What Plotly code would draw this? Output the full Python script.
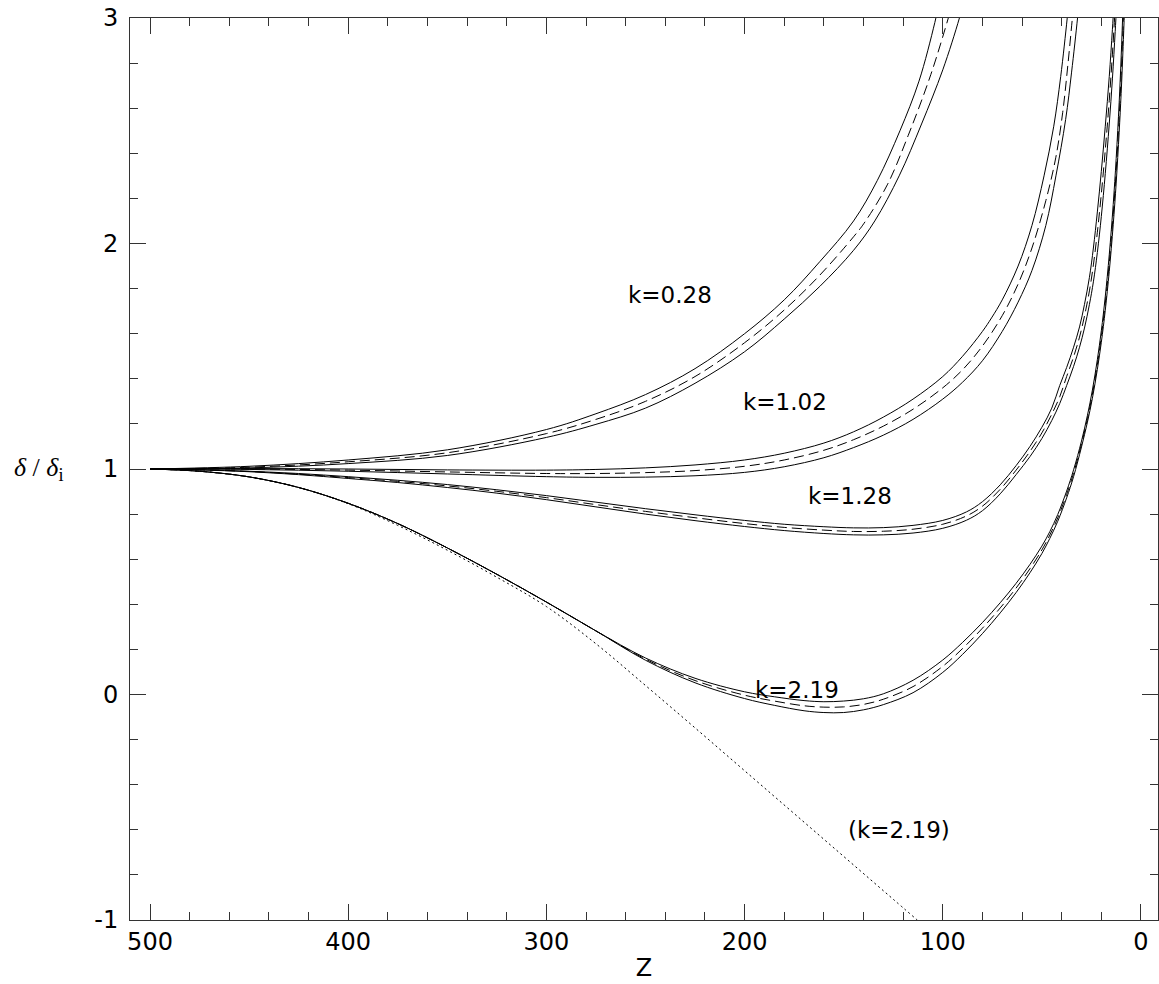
import plotly.graph_objects as go

# ---------------- data ----------------
# k = 0.28 band
k028_up_z = [500, 450, 400, 350, 300, 275, 250, 225, 200, 180, 162, 145, 133, 121.6, 112, 104, 101]
k028_up_y = [1.0, 1.012, 1.04, 1.085, 1.175, 1.245, 1.33, 1.445, 1.60, 1.75, 1.92, 2.10, 2.28, 2.50, 2.72, 2.98, 3.10]
k028_mid_z = [500, 450, 400, 350, 300, 275, 250, 225, 200, 180, 162, 145, 139.7, 128, 117.4, 106, 97.2, 94]
k028_mid_y = [1.0, 1.008, 1.032, 1.072, 1.157, 1.22, 1.30, 1.41, 1.56, 1.705, 1.86, 2.03, 2.09, 2.26, 2.48, 2.75, 3.0, 3.1]
k028_lo_z = [500, 450, 400, 350, 300, 275, 250, 225, 200, 180, 162, 145, 134.3, 122, 110.7, 100, 91.6, 88]
k028_lo_y = [1.0, 1.005, 1.024, 1.06, 1.14, 1.198, 1.27, 1.38, 1.52, 1.665, 1.81, 1.97, 2.10, 2.30, 2.53, 2.77, 3.0, 3.12]

# k = 1.02 band
k102_up_z = [500, 450, 400, 350, 300, 275, 250, 225, 200, 180, 160, 145, 130, 115, 100, 90, 80, 75.4, 70, 62, 55, 48.9, 44, 40.5, 37.2, 36]
k102_up_y = [1.0, 1.002, 1.0, 0.996, 0.995, 0.998, 1.005, 1.018, 1.04, 1.07, 1.115, 1.165, 1.23, 1.31, 1.41, 1.50, 1.61, 1.67, 1.75, 1.90, 2.08, 2.30, 2.52, 2.74, 3.0, 3.11]
k102_mid_z = [500, 450, 400, 350, 300, 275, 250, 225, 200, 180, 160, 145, 130, 115, 100, 90, 80, 70, 62, 55, 48, 43, 39.5, 36.9, 34.6, 33.5]
k102_mid_y = [1.0, 1.0, 0.995, 0.987, 0.98, 0.98, 0.984, 0.993, 1.012, 1.04, 1.083, 1.13, 1.19, 1.265, 1.36, 1.44, 1.545, 1.68, 1.82, 1.98, 2.19, 2.38, 2.58, 2.79, 3.0, 3.1]
k102_lo_z = [500, 450, 400, 350, 300, 275, 250, 225, 200, 180, 160, 145, 130, 115, 100, 90, 80, 70, 62, 55, 48, 42.9, 38, 35, 32, 30.8]
k102_lo_y = [1.0, 0.998, 0.99, 0.978, 0.966, 0.963, 0.964, 0.97, 0.985, 1.01, 1.05, 1.095, 1.15, 1.22, 1.31, 1.385, 1.48, 1.61, 1.74, 1.88, 2.08, 2.30, 2.55, 2.76, 3.0, 3.11]

# k = 1.28 band
k128_up_z = [500, 475, 450, 425, 400, 375, 350, 325, 300, 275, 250, 225, 200, 180, 160, 145, 130, 115, 100, 88, 80, 71, 63, 56, 50, 45, 41, 37.5, 34, 31, 28.5, 26, 24, 22, 20, 18, 16, 14.4, 13.5]
k128_up_y = [1.0, 0.997, 0.99, 0.98, 0.966, 0.95, 0.931, 0.908, 0.882, 0.853, 0.824, 0.797, 0.772, 0.755, 0.744, 0.739, 0.74, 0.75, 0.772, 0.81, 0.855, 0.93, 1.015, 1.10, 1.185, 1.27, 1.37, 1.45, 1.54, 1.63, 1.73, 1.85, 1.98, 2.14, 2.32, 2.52, 2.74, 2.95, 3.08]
k128_mid_z = [500, 475, 450, 425, 400, 375, 350, 325, 300, 275, 250, 225, 200, 180, 160, 145, 130, 115, 100, 88, 80, 71, 63, 56, 50, 45, 41, 37.5, 34, 31, 28.5, 26, 24, 22, 20, 18, 16, 14.4, 13.3, 12.6]
k128_mid_y = [1.0, 0.996, 0.989, 0.977, 0.962, 0.945, 0.925, 0.901, 0.873, 0.842, 0.812, 0.784, 0.758, 0.741, 0.729, 0.723, 0.724, 0.733, 0.755, 0.792, 0.835, 0.91, 0.995, 1.078, 1.16, 1.243, 1.32, 1.41, 1.497, 1.585, 1.678, 1.79, 1.905, 2.05, 2.22, 2.415, 2.635, 2.84, 3.0, 3.1]
k128_lo_z = [500, 475, 450, 425, 400, 375, 350, 325, 300, 275, 250, 225, 200, 180, 160, 145, 130, 115, 100, 88, 80, 71, 63, 56, 50, 45, 41, 37.5, 34, 31, 28.5, 26, 24, 22, 20, 18, 16, 14.4, 13, 12.2]
k128_lo_y = [1.0, 0.996, 0.988, 0.975, 0.958, 0.94, 0.918, 0.893, 0.864, 0.832, 0.80, 0.771, 0.745, 0.727, 0.714, 0.708, 0.708, 0.716, 0.737, 0.773, 0.815, 0.89, 0.975, 1.055, 1.135, 1.215, 1.29, 1.37, 1.455, 1.54, 1.625, 1.73, 1.83, 1.96, 2.12, 2.31, 2.53, 2.73, 2.94, 3.07]

# k = 2.19 band
k219_z = [500, 475, 450, 425, 400, 375, 350, 325, 300, 275, 250, 225, 200, 185, 170, 160, 150, 140, 130, 115, 100, 90, 80, 71, 63, 56, 50, 46, 42, 37.5, 34, 30, 27, 24.5, 22, 20, 18, 16, 14, 12.5, 11, 10, 9, 8.3]
k219_up_y = [1.0, 0.99, 0.965, 0.918, 0.848, 0.758, 0.650, 0.533, 0.41, 0.282, 0.162, 0.072, 0.012, -0.01, -0.027, -0.032, -0.029, -0.019, 0.003, 0.063, 0.153, 0.231, 0.319, 0.407, 0.493, 0.577, 0.658, 0.722, 0.798, 0.902, 0.996, 1.124, 1.238, 1.35, 1.485, 1.613, 1.765, 1.95, 2.173, 2.377, 2.625, 2.825, 3.065, 3.26]
k219_mid_y = [1.0, 0.99, 0.965, 0.918, 0.848, 0.758, 0.650, 0.533, 0.41, 0.282, 0.157, 0.062, -0.003, -0.029, -0.05, -0.056, -0.055, -0.044, -0.021, 0.035, 0.125, 0.204, 0.294, 0.384, 0.472, 0.558, 0.641, 0.707, 0.783, 0.887, 0.981, 1.111, 1.223, 1.332, 1.463, 1.587, 1.735, 1.913, 2.128, 2.322, 2.559, 2.745, 2.969, 3.15]
k219_lo_y = [1.0, 0.99, 0.965, 0.918, 0.848, 0.758, 0.650, 0.533, 0.41, 0.282, 0.152, 0.052, -0.018, -0.048, -0.072, -0.08, -0.08, -0.068, -0.045, 0.008, 0.098, 0.178, 0.27, 0.362, 0.452, 0.54, 0.625, 0.692, 0.768, 0.872, 0.966, 1.098, 1.208, 1.314, 1.442, 1.562, 1.704, 1.876, 2.083, 2.268, 2.493, 2.665, 2.873, 3.04]

# linear theory, k = 2.19 (dotted)
lin219_z = [500, 475, 450, 425, 400, 375, 350, 325, 300, 275, 250, 225, 200, 175, 150, 125, 100]
lin219_y = [1.0, 0.99, 0.965, 0.918, 0.846, 0.750, 0.640, 0.52, 0.39, 0.225, 0.04, -0.148, -0.338, -0.528, -0.718, -0.908, -1.098]

# curve labels
label_text = ["k=0.28", "k=1.02", "k=1.28", "k=2.19", "(k=2.19)"]
label_z = [237.6, 179.6, 146.8, 173.7, 122.0]
label_y = [1.77, 1.298, 0.88, 0.022, -0.60]

# axis ticks
x_tickvals = [500, 400, 300, 200, 100, 0]
x_ticktext = ["500", "400", "300", "200", "100", "0"]
y_tickvals = [-1, 0, 1, 2, 3]
y_ticktext = ["-1", "0", "1", "2", "3"]

# ---------------- figure ----------------
fig = go.Figure()

def add_curve(z, y, dash):
    fig.add_trace(go.Scatter(
        x=z, y=y, mode="lines",
        line=dict(color="black", width=1, dash=dash, shape="spline", smoothing=1.0),
        hoverinfo="skip", showlegend=False))

DASH = "10px,5px"
bands = [
    ((k028_up_z, k028_up_y), (k028_mid_z, k028_mid_y), (k028_lo_z, k028_lo_y)),
    ((k102_up_z, k102_up_y), (k102_mid_z, k102_mid_y), (k102_lo_z, k102_lo_y)),
    ((k128_up_z, k128_up_y), (k128_mid_z, k128_mid_y), (k128_lo_z, k128_lo_y)),
    ((k219_z, k219_up_y), (k219_z, k219_mid_y), (k219_z, k219_lo_y)),
]
for up, mid, lo in bands:
    add_curve(*up, "solid")
    add_curve(*mid, DASH)
    add_curve(*lo, "solid")

add_curve(lin219_z, lin219_y, "2px,3px")

LABEL_FONT = dict(family="DejaVu Sans", size=23, color="black")
for t, zx, yy in zip(label_text, label_z, label_y):
    fig.add_annotation(x=zx, y=yy, xref="x", yref="y", text=t, showarrow=False,
                       font=LABEL_FONT, xanchor="center", yanchor="middle")

# y-axis title (delta / delta_i)
fig.add_annotation(x=-0.089, y=1, xref="paper", yref="y",
                   text="<i>δ</i> / <i>δ</i><sub>i</sub>", showarrow=False,
                   font=dict(family="Liberation Serif", size=26, color="black"),
                   xanchor="center", yanchor="middle")

AX_COL = "#333333"
TICK_FONT = dict(family="DejaVu Sans", size=24, color="black")
fig.update_xaxes(
    range=[510.1, -8.6], tickmode="array", tickvals=x_tickvals, ticktext=x_ticktext,
    ticks="inside", ticklen=16, tickwidth=1, tickcolor=AX_COL,
    showline=True, linecolor=AX_COL, linewidth=1, mirror="allticks",
    showgrid=False, zeroline=False, tickfont=TICK_FONT,
    minor=dict(tickmode="linear", tick0=0, dtick=20, ticks="inside", ticklen=8,
               tickwidth=1, tickcolor=AX_COL, showgrid=False),
    title=dict(text="Z", font=dict(family="DejaVu Sans", size=24, color="black"), standoff=4),
)
fig.update_yaxes(
    range=[-1, 3], tickmode="array", tickvals=y_tickvals, ticktext=y_ticktext,
    ticks="inside", ticklen=16, tickwidth=1, tickcolor=AX_COL,
    showline=True, linecolor=AX_COL, linewidth=1, mirror="allticks",
    showgrid=False, zeroline=False, tickfont=TICK_FONT,
    minor=dict(tickmode="linear", tick0=0, dtick=0.2, ticks="inside", ticklen=8,
               tickwidth=1, tickcolor=AX_COL, showgrid=False),
    ticklabelstandoff=6,
)
fig.update_layout(
    width=1159, height=984, autosize=False,
    margin=dict(l=130, r=1, t=18, b=64, pad=0),
    paper_bgcolor="white", plot_bgcolor="white",
    showlegend=False,
)

fig.write_html("out.html", config={"displayModeBar": False},
               post_script="document.body.style.margin='0';document.body.style.overflow='hidden';")
